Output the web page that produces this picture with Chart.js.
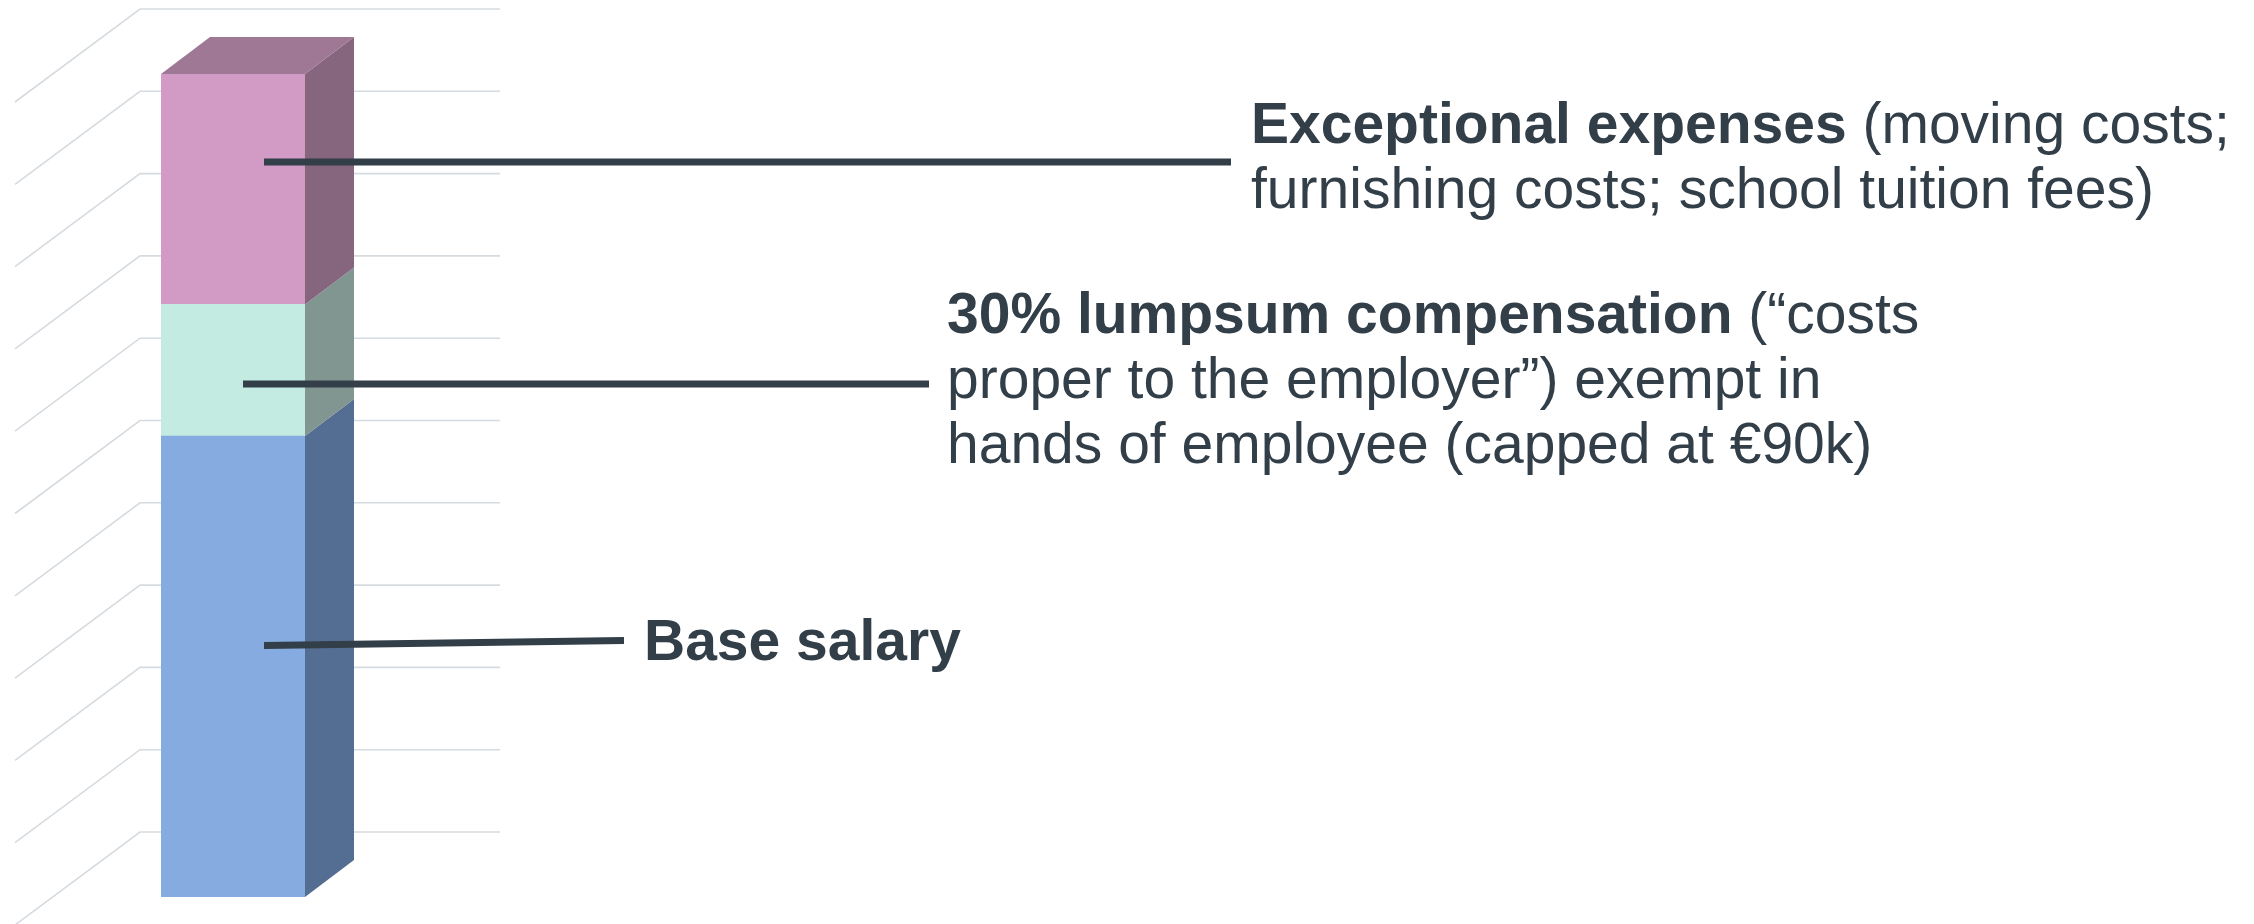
<!DOCTYPE html>
<html><head><meta charset="utf-8">
<script src="https://cdn.jsdelivr.net/npm/chart.js@4.4.1/dist/chart.umd.min.js"></script>
<style>html,body{margin:0;padding:0;background:#fff;overflow:hidden}canvas{display:block}</style>
</head><body>
<canvas id="c" width="2254" height="924"></canvas>
<script>
// ---- data ----
const categories = ['Compensation'];
const seriesNames = ['Base salary', '30% lumpsum compensation', 'Exceptional expenses'];
const baseSalary = [56];
const lumpsum = [16];
const exceptional = [28];
const gridTicks = [0, 10, 20, 30, 40, 50, 60, 70, 80, 90, 100];

// label texts: each line is a list of [bold, regular] runs
const exceptionalText = [['Exceptional expenses', ' (moving costs;'], ['', 'furnishing costs; school tuition fees)']];
const lumpsumText = [['30% lumpsum compensation', ' (\u201ccosts'], ['', 'proper to the employer\u201d) exempt in'], ['', 'hands of employee (capped at \u20ac90k)']];
const baseText = [['Base salary', '']];

// ---- style / layout ----
const frontColors = ['#85abe0', '#c4ebe2', '#d19bc5'];
const sideColors = ['#546e93', '#819591', '#86657e'];
const topColor = '#9e7894';
const ink = '#323e48';
const gridColor = '#d6dbe0';
const depth = { dx: 49, dy: -37 };
const wall = { shift: 65, left: 140, right: 500, diagDx: -125, diagDy: 93 };
const FONT = '"Liberation Sans", Arial, sans-serif';
const FS = 57, LH = 65;
const notes = [
  { text: exceptionalText, x: 1251, y: 143, line: [264, 162, 1231, 162] },
  { text: lumpsumText, x: 947, y: 333, line: [243, 384, 929, 384] },
  { text: baseText, x: 644, y: 660, line: [264, 645.5, 624, 640.5] }
];

const wallPlugin = {
  id: 'wall',
  beforeDatasetsDraw(chart) {
    const ctx = chart.ctx, ys = chart.scales.y;
    ctx.save();
    ctx.strokeStyle = gridColor;
    ctx.lineWidth = 1.6;
    gridTicks.forEach(v => {
      const yy = ys.getPixelForValue(v) - wall.shift;
      ctx.beginPath();
      ctx.moveTo(wall.left + wall.diagDx, yy + wall.diagDy);
      ctx.lineTo(wall.left, yy);
      ctx.lineTo(wall.right, yy);
      ctx.stroke();
    });
    ctx.restore();
  }
};

const depthPlugin = {
  id: 'depth3d',
  afterDatasetsDraw(chart) {
    const ctx = chart.ctx;
    const n = chart.data.datasets.length;
    ctx.save();
    chart.data.datasets.forEach((ds, i) => {
      const meta = chart.getDatasetMeta(i);
      meta.data.forEach(bar => {
        const p = bar.getProps(['x', 'y', 'base', 'width'], true);
        const l = p.x - p.width / 2, r = p.x + p.width / 2;
        ctx.fillStyle = sideColors[i];
        ctx.beginPath();
        ctx.moveTo(r, p.y);
        ctx.lineTo(r + depth.dx, p.y + depth.dy);
        ctx.lineTo(r + depth.dx, p.base + depth.dy);
        ctx.lineTo(r, p.base);
        ctx.closePath();
        ctx.fill();
        if (i === n - 1) {
          ctx.fillStyle = topColor;
          ctx.beginPath();
          ctx.moveTo(l, p.y);
          ctx.lineTo(r, p.y);
          ctx.lineTo(r + depth.dx, p.y + depth.dy);
          ctx.lineTo(l + depth.dx, p.y + depth.dy);
          ctx.closePath();
          ctx.fill();
        }
      });
    });
    ctx.restore();
  },
  afterDraw(chart) {
    const ctx = chart.ctx;
    ctx.save();
    ctx.strokeStyle = ink;
    ctx.fillStyle = ink;
    ctx.lineWidth = 7;
    ctx.lineCap = 'butt';
    ctx.textBaseline = 'alphabetic';
    ctx.textAlign = 'left';
    notes.forEach(nt => {
      const [x1, y1, x2, y2] = nt.line;
      ctx.beginPath();
      ctx.moveTo(x1, y1);
      ctx.lineTo(x2, y2);
      ctx.stroke();
      nt.text.forEach((runs, k) => {
        let x = nt.x;
        const y = nt.y + k * LH;
        if (runs[0]) {
          ctx.font = 'bold ' + FS + 'px ' + FONT;
          ctx.fillText(runs[0], x, y);
          x += ctx.measureText(runs[0]).width;
        }
        if (runs[1]) {
          ctx.font = FS + 'px ' + FONT;
          ctx.fillText(runs[1], x, y);
        }
      });
    });
    ctx.restore();
  }
};

const seriesValues = [baseSalary, lumpsum, exceptional];
new Chart(document.getElementById('c'), {
  type: 'bar',
  data: {
    labels: categories,
    datasets: seriesValues.map((vals, i) => ({
      label: seriesNames[i],
      data: vals,
      backgroundColor: frontColors[i],
      borderWidth: 0,
      barPercentage: 1,
      categoryPercentage: 1
    }))
  },
  options: {
    responsive: false,
    animation: false,
    devicePixelRatio: 1,
    layout: { padding: { left: 161, right: 1949, top: 74, bottom: 27 } },
    plugins: { legend: { display: false }, tooltip: { enabled: false } },
    scales: {
      x: { stacked: true, display: false },
      y: { stacked: true, display: false, min: 0, max: 100 }
    }
  },
  plugins: [wallPlugin, depthPlugin]
});
</script>
</body></html>
